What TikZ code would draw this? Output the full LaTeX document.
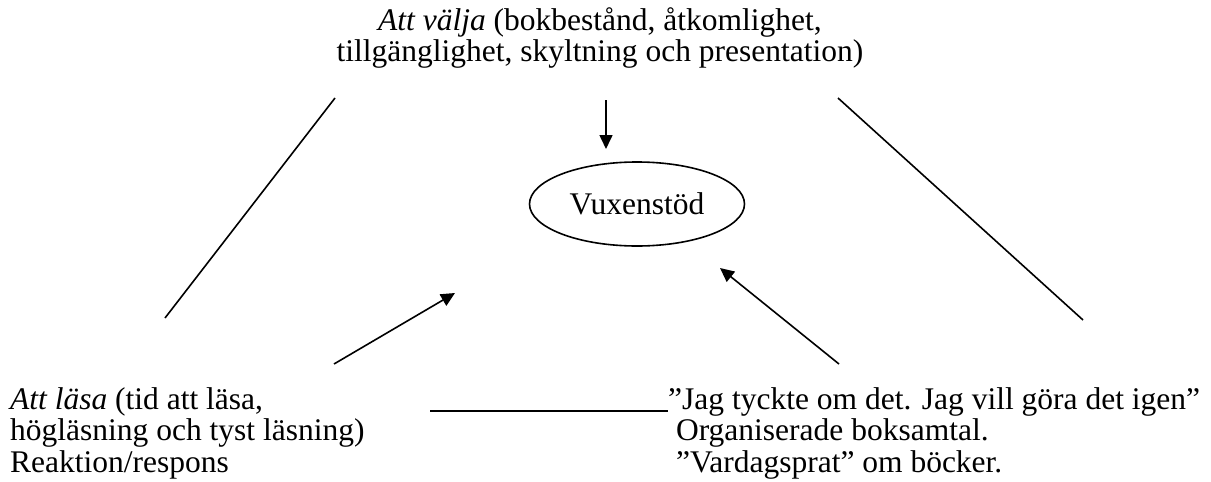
\documentclass[tikz,border=0pt]{standalone}
\usepackage{fontspec}
\setmainfont{Liberation Serif}
\usetikzlibrary{arrows.meta,shapes.geometric}

\begin{document}
\begin{tikzpicture}[x=1pt, y=-1pt, >={Triangle[length=14pt,width=13pt]},
    txt/.style={inner sep=0pt, align=left, font=\fontsize{31.5}{31.5}\selectfont},
    pil/.style={->, line width=1.6pt},
    linje/.style={line width=1.6pt}]
	  \useasboundingbox (0,0) rectangle (1211,482);
	  % texter
	  \node[txt, align=center, anchor=north] (valja) at (600,7)
	    {\textit{Att välja} (bokbestånd, åtkomlighet,\\tillgänglighet, skyltning och presentation)};
	  \node[draw, ellipse, line width=1.6pt, minimum width=215pt, minimum height=84pt,
	    inner sep=0pt, font=\fontsize{31.5}{31.5}\selectfont] (vuxen) at (637,204) {Vuxenstöd};
	  \node[txt, anchor=north west] (lasa) at (10,387)
	    {\textit{Att läsa} (tid att läsa,\\högläsning och tyst läsning)\\Reaktion/respons};
	  \node[txt, anchor=north west] (respons) at (668,387)
	    {”Jag tyckte om det. Jag vill göra det igen”\\\ Organiserade boksamtal.\\\ ”Vardagsprat” om böcker.};
	  % linjer
	  \coordinate (v1) at (335,98);  \coordinate (v2) at (165,318);
	  \coordinate (h1) at (838,98);  \coordinate (h2) at (1083,320);
	  \coordinate (m1) at (430,411); \coordinate (m2) at (668,411);
	  \draw[linje] (v1) -- (v2);
	  \draw[linje] (h1) -- (h2);
	  \draw[linje] (m1) -- (m2);
	  % pilar
	  \coordinate (a1) at (606,100); \coordinate (a2) at (606,149);
	  \coordinate (b1) at (334,364); \coordinate (b2) at (455,293);
	  \coordinate (c1) at (839,364); \coordinate (c2) at (720,268);
	  \draw[pil] (a1) -- (a2);
	  \draw[pil] (b1) -- (b2);
	  \draw[pil] (c1) -- (c2);
	\end{tikzpicture}
\end{document}
